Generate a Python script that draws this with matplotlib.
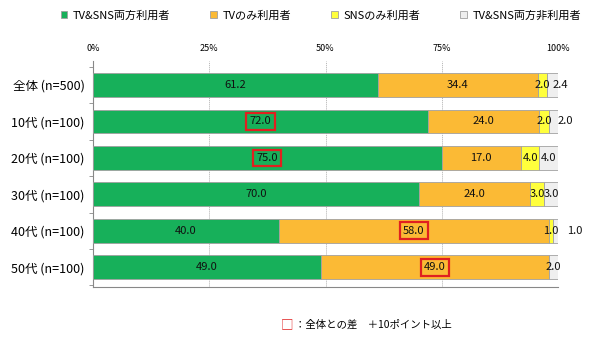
import matplotlib.pyplot as plt
import numpy as np

plt.rcParams['font.family'] = ['Noto Sans CJK JP', 'DejaVu Sans']

# データ
grupos = ["全体 (n=500)", "10代 (n=100)", "20代 (n=100)", "30代 (n=100)", "40代 (n=100)", "50代 (n=100)"]
series = ["TV&SNS両方利用者", "TVのみ利用者", "SNSのみ利用者", "TV&SNS両方非利用者"]
tv_sns = [61.2, 72.0, 75.0, 70.0, 40.0, 49.0]
tv_only = [34.4, 24.0, 17.0, 24.0, 58.0, 49.0]
sns_only = [2.0, 2.0, 4.0, 3.0, 1.0, 0.0]
nenhum = [2.4, 2.0, 4.0, 3.0, 1.0, 2.0]
# células destacadas (serie, grupo): diferença >= +10 pontos vs 全体
destaques = [(0, 1), (0, 2), (1, 4), (1, 5)]

cores = ["#17B05A", "#FBBA35", "#FFFF3C", "#EFEFEF"]
valores = [tv_sns, tv_only, sns_only, nenhum]

# rótulos do último segmento deslocados (grupo: posição x)
fora = {0: 100.5, 1: 101.5, 4: 103.5}

fig = plt.figure(figsize=(6, 3.4), dpi=100)
ax = fig.add_axes([0.155, 0.155, 0.775, 0.665])

y = np.arange(len(grupos))
esquerda = np.zeros(len(grupos))
for i, (vals, cor) in enumerate(zip(valores, cores)):
    vals = np.array(vals)
    ax.barh(y, vals, left=esquerda, height=0.65, color=cor, edgecolor="#A0A0A0",
            linewidth=0.6, label=series[i], zorder=3)
    for j, v in enumerate(vals):
        if v == 0:
            continue
        xc = esquerda[j] + v / 2
        if i == 3 and j in fora:
            xc = fora[j]
        kw = {}
        if (i, j) in destaques:
            kw["bbox"] = dict(boxstyle="square,pad=0.3", facecolor="none",
                              edgecolor="#E02020", linewidth=1.6)
        ax.text(xc, y[j], f"{v:.1f}", ha="center", va="center", fontsize=8,
                color="#111111", zorder=5, **kw)
    esquerda += vals

ax.set_xlim(0, 100)
ax.set_ylim(len(grupos) - 0.45, -0.65)
ax.set_yticks(y)
ax.set_yticklabels(grupos, fontsize=9)
ax.set_yticks(np.arange(len(grupos) + 1) - 0.5, minor=True)
ax.tick_params(axis="y", which="major", length=0, pad=6)
ax.tick_params(axis="y", which="minor", length=3, color="#888888")

ax.xaxis.tick_top()
ax.set_xticks([0, 25, 50, 75, 100])
ax.set_xticklabels(["0%", "25%", "50%", "75%", "100%"], fontsize=6.5)
ax.tick_params(axis="x", length=0, pad=6)
ax.grid(axis="x", linestyle=(0, (1, 1)), color="#B0B0B0", linewidth=0.7, zorder=0)

for s in ["top", "right"]:
    ax.spines[s].set_visible(False)
ax.spines["left"].set_color("#888888")
ax.spines["bottom"].set_color("#888888")
ax.axvline(100, color="#C8C8C8", linewidth=0.7, zorder=1)

fig.legend(loc="upper center", bbox_to_anchor=(0.535, 1.0), ncol=4, frameon=False,
           fontsize=8, handlelength=0.6, handleheight=0.6, columnspacing=3.6,
           handletextpad=0.5)

fig.text(0.468, 0.045, "□", color="#E02020", fontsize=9, va="center", ha="left")
fig.text(0.492, 0.045, "：全体との差　＋10ポイント以上", fontsize=7.5, va="center", ha="left")

fig.savefig("out.png", dpi=100)
